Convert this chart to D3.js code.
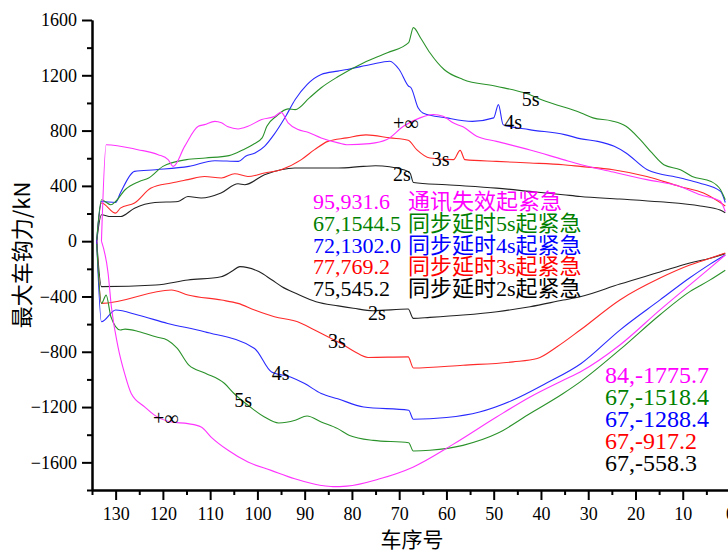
<!DOCTYPE html>
<html>
<head>
<meta charset="utf-8">
<script src="https://cdn.jsdelivr.net/npm/d3@7"></script>
<style>
  body { margin: 0; background: #fff; }
  svg { display: block; }
  .serif { font-family: "Liberation Serif", "DejaVu Serif", "Times New Roman", serif; }
  .cjk { font-family: "Noto Sans CJK SC", "Noto Sans CJK JP", sans-serif; }
</style>
</head>
<body>
<svg id="chart" width="728" height="553"></svg>
<script>
// Maximum coupler force along the train (car number, kN).
// Tension (positive) and compression (negative) envelopes for each braking case.
const caseNames = ["通讯失效起紧急", "同步延时5s起紧急", "同步延时4s起紧急", "同步延时3s起紧急", "同步延时2s起紧急"];

const commLossMax = [[133,0],[132,698],[125.3,662],[121,626],[118.9,590],[117.8,541],[115.4,686],[112.5,831],[111.2,843],[109,867],[107.6,856],[106.2,827],[104.1,812],[102,831],[99.1,880],[96.3,904],[95,931.6],[93.5,856],[91.4,807],[89.3,788],[86.5,747],[82.9,711],[81.1,698],[76.2,706],[72.6,735],[69.1,831],[65.6,892],[62.8,916],[60.7,904],[58.6,856],[56.5,827],[53.6,759],[49.4,722],[42.3,660],[35.3,590],[31.7,555],[24.7,500],[17.6,445],[10.6,396],[6.3,336],[2.1,290],[1,215]];
const commLossMin = [[133,0],[131.6,-230],[130.9,-474],[129.5,-764],[128.1,-957],[126.7,-1102],[123.8,-1200],[121.7,-1260],[118.2,-1308],[114.7,-1320],[111.9,-1344],[109.8,-1417],[106.2,-1513],[102,-1598],[97.1,-1658],[92.1,-1719],[86.5,-1767],[84,-1775.7],[81.1,-1772],[74.1,-1719],[67.1,-1635],[58.6,-1470],[49.4,-1272],[42.3,-1127],[35.3,-1006],[31.7,-946],[23.3,-751],[14.8,-497],[8.5,-316],[4.2,-193],[1,-100]];

const delay5Max = [[134,10],[133,300],[131,263],[130,287],[128,372],[125,432],[123,457],[120,541],[115,590],[111,602],[106,619],[103,662],[101,698],[99,747],[98,831],[96,904],[93.5,957],[92,952],[89,1037],[86.5,1110],[83,1189],[77.5,1291],[72.5,1363],[68,1436],[67,1544.5],[65.5,1472],[63.5,1363],[60.5,1242],[56.5,1170],[49.5,1121],[43.5,1073],[39,1012],[31.5,928],[29,892],[25,870],[22,831],[19,735],[16.5,638],[14,553],[10.5,517],[8,468],[4,432],[2,372],[1,300]];
const delay5Min = [[134,-20],[133,-450],[132,-390],[131,-547],[129,-643],[128,-636],[125,-655],[121.5,-692],[119,-716],[117,-774],[114.5,-897],[111,-955],[107,-1028],[105,-1100],[101.5,-1200],[98.5,-1272],[95.5,-1315],[92,-1296],[89.5,-1265],[86.5,-1308],[83,-1356],[80.5,-1405],[75.5,-1441],[68,-1458],[67,-1518.4],[63.5,-1513],[56.5,-1477],[49.3,-1392],[42.3,-1247],[35.3,-1102],[31.7,-1018],[23.3,-785],[14.8,-532],[8.5,-365],[4.2,-280],[1,-210]];

const delay4Max = [[134,0],[133,287],[130,280],[129,348],[126,505],[121.5,517],[114.5,541],[109,582],[104,577],[102.5,614],[100.5,638],[98.5,686],[96.5,771],[94,904],[92,1025],[89.5,1133],[86.5,1206],[83,1230],[81,1242],[76,1278],[72,1302.0],[70,1242],[68,1121],[67.5,1110],[66,965],[65,928],[60,892],[54.5,867],[50,892],[49,988],[48,843],[42.5,807],[35,771],[31.5,740],[28,722],[24.5,686],[22,638],[17.5,517],[10.5,457],[6.5,421],[2,360],[1,280]];
const delay4Min = [[134,0],[133,-583],[130,-498],[125.3,-534],[119,-595],[111.2,-655],[100.6,-776],[97,-946],[93,-982],[90,-1030],[86.5,-1102],[83,-1140],[77.5,-1200],[68,-1223],[67,-1288.4],[60,-1276],[53,-1236],[46,-1151],[39,-1030],[31.5,-885],[23.3,-643],[14.8,-425],[8.5,-265],[4.2,-166],[1,-100]];

const delay3Max = [[134,0],[133,276],[130,203],[129,239],[126,276],[122.5,384],[118.2,421],[114.7,445],[111.2,468],[107.6,457],[104.8,488],[102,468],[98.5,493],[95,517],[90.7,590],[87.9,662],[85.1,722],[81.1,747],[77,769.2],[71.9,747],[68.1,730],[66.3,662],[63.5,602],[58.5,590],[57.1,657],[56.1,590],[49.4,577],[42.3,566],[35.3,553],[31.7,541],[24.7,517],[17.6,468],[10.6,396],[5.6,348],[1,255]];
const delay3Min = [[134,0],[133,-450],[118.2,-353],[114.7,-389],[107.6,-426],[104.1,-450],[100.6,-498],[96.4,-547],[91.5,-583],[87.9,-643],[85.1,-692],[82.3,-740],[79.4,-800],[76.6,-841],[68.1,-837],[67,-917.2],[56.5,-897],[45.9,-873],[40.8,-849],[36.6,-764],[31.7,-643],[23.3,-425],[14.8,-267],[8.5,-173],[4.2,-123],[1,-85]];

const delay2Max = [[134,0],[133,191],[131,178],[129,178],[126,239],[121.7,280],[116.8,287],[114.7,323],[111.9,312],[107.7,348],[104.1,415],[102.7,408],[98.5,481],[95,517],[92.1,529],[82.9,529],[77.6,541],[75,545.2],[69.1,517],[67.7,493],[67,425],[60,408],[49.4,384],[42.3,360],[35.3,336],[31.7,323],[23.3,305],[14.8,285],[6.3,255],[2.1,225],[1,205]];
const delay2Min = [[134,0],[133,-329],[121.5,-317],[114.7,-281],[107.7,-257],[105.5,-220],[103.7,-184],[99.7,-220],[96.9,-281],[94.8,-329],[91.9,-377],[87.6,-438],[82.9,-468],[79.7,-485],[75.5,-503],[68.1,-491],[67,-558.3],[63.5,-551],[56.5,-534],[49.3,-510],[42.3,-474],[35.3,-426],[31.7,-402],[23.3,-310],[14.8,-223],[8.5,-158],[4.2,-123],[1,-90]];

const tensionSeries = [commLossMax, delay5Max, delay4Max, delay3Max, delay2Max];
const compressionSeries = [commLossMin, delay5Min, delay4Min, delay3Min, delay2Min];

// Curve tags: [text, car, kN]
const curveTags = [
  ["5s", 42.2, 1025], ["4s", 45.9, 862], ["+∞", 68.6, 858], ["3s", 61.2, 597], ["2s", 69.4, 488],
  ["2s", 74.7, -520], ["3s", 83.2, -722], ["4s", 95.1, -951], ["5s", 103, -1151], ["+∞", 119.4, -1278]
];

const xMajorTicks = [130, 120, 110, 100, 90, 80, 70, 60, 50, 40, 30, 20, 10, 0];
const yMajorTicks = [-1600, -1200, -800, -400, 0, 400, 800, 1200, 1600];

// ---- drawing ----
const colors = ["#ff00ff", "#008000", "#0000ff", "#ff0000", "#000000"];
const lineColors = ["#ff33ff", "#2a922a", "#2a2aff", "#ff2a2a", "#222222"];

const svg = d3.select("#chart");
const x = d3.scaleLinear().domain([135, 0]).range([92, 730]);
const y = d3.scaleLinear().domain([-1800, 1600]).range([490, 20]);

// Curves
const line = d3.line().x(d => x(d[0])).y(d => y(d[1])).curve(d3.curveMonotoneX);
const curves = svg.append("g").attr("fill", "none").attr("stroke-width", 1.1);
[4, 3, 2, 1, 0].forEach(i => {
  curves.append("path").attr("d", line(tensionSeries[i])).attr("stroke", lineColors[i]);
  curves.append("path").attr("d", line(compressionSeries[i])).attr("stroke", lineColors[i]);
});

// Axes
function styleAxis(g) {
  g.attr("font-family", null).attr("font-size", null);
  g.selectAll("path.domain").attr("stroke", "#000").attr("stroke-width", 2);
  g.selectAll(".tick line").attr("stroke", "#000").attr("stroke-width", 2);
  g.selectAll(".tick text").attr("fill", "#000").attr("class", "serif").style("font-size", "18px");
}
const xMinor = d3.range(0, 136, 5).filter(v => v % 10 !== 0);
svg.append("g").attr("transform", "translate(0,490)")
  .call(d3.axisBottom(x).tickValues(xMinor).tickSize(5).tickSizeOuter(0).tickFormat(""))
  .call(styleAxis);
svg.append("g").attr("transform", "translate(0,490)")
  .call(d3.axisBottom(x).tickValues(xMajorTicks).tickSize(10).tickSizeOuter(0).tickPadding(7).tickFormat(d3.format("d")))
  .call(styleAxis);

const yMinor = d3.range(-1800, 1601, 200).filter(v => v % 400 !== 0);
svg.append("g").attr("transform", "translate(92,0)")
  .call(d3.axisLeft(y).tickValues(yMinor).tickSize(5).tickSizeOuter(0).tickFormat(""))
  .call(styleAxis);
svg.append("g").attr("transform", "translate(92,0)")
  .call(d3.axisLeft(y).tickValues(yMajorTicks).tickSize(10).tickSizeOuter(0).tickPadding(5).tickFormat(d3.format("d")))
  .call(styleAxis);

// Axis titles
svg.append("text").attr("class", "cjk").attr("x", 412).attr("y", 547).attr("text-anchor", "middle")
  .style("font-size", "21px").text("车序号");
svg.append("text").attr("class", "cjk").attr("transform", "translate(30,255) rotate(-90)").attr("text-anchor", "middle")
  .style("font-size", "22px").text("最大车钩力/kN");

// Curve tags
svg.append("g").selectAll("text").data(curveTags).join("text")
  .attr("class", "serif")
  .attr("x", d => x(d[1])).attr("y", d => y(d[2])).attr("dy", "0.35em")
  .attr("text-anchor", "middle")
  .style("font-size", "20px").attr("fill", "#000")
  .text(d => d[0]);

// Peak tension readouts with case names
const fmt = p => `${p[0]},${p[1].toFixed(1)}`;
const tensionPeaks = tensionSeries.map(s => d3.greatest(s, d => d[1]));
const compressionPeaks = compressionSeries.map(s => d3.least(s, d => d[1]));

const rowY = [209, 231, 252.5, 274, 295.5];
const peakBlock = svg.append("g");
tensionPeaks.forEach((p, i) => {
  peakBlock.append("text").attr("class", "serif").attr("x", 313).attr("y", rowY[i]).attr("fill", colors[i])
    .style("font-size", "22px").text(fmt(p));
  // Case name: CJK runs and the "Ns" delay run set in their own faces, laid end to end
  let cx = 408;
  caseNames[i].split(/(\d+s)/).filter(s => s.length).forEach(part => {
    const t = peakBlock.append("text")
      .attr("class", /\d+s/.test(part) ? "serif" : "cjk")
      .attr("x", cx).attr("y", rowY[i]).attr("fill", colors[i])
      .style("font-size", "22px").text(part);
    cx += t.node().getComputedTextLength();
  });
});

// Peak compression readouts
const lowY = [383, 405, 427, 449, 471];
compressionPeaks.forEach((p, i) => {
  svg.append("text").attr("class", "serif").attr("x", 605).attr("y", lowY[i]).attr("fill", colors[i])
    .style("font-size", "24px").text(fmt(p));
});
</script>
</body>
</html>
